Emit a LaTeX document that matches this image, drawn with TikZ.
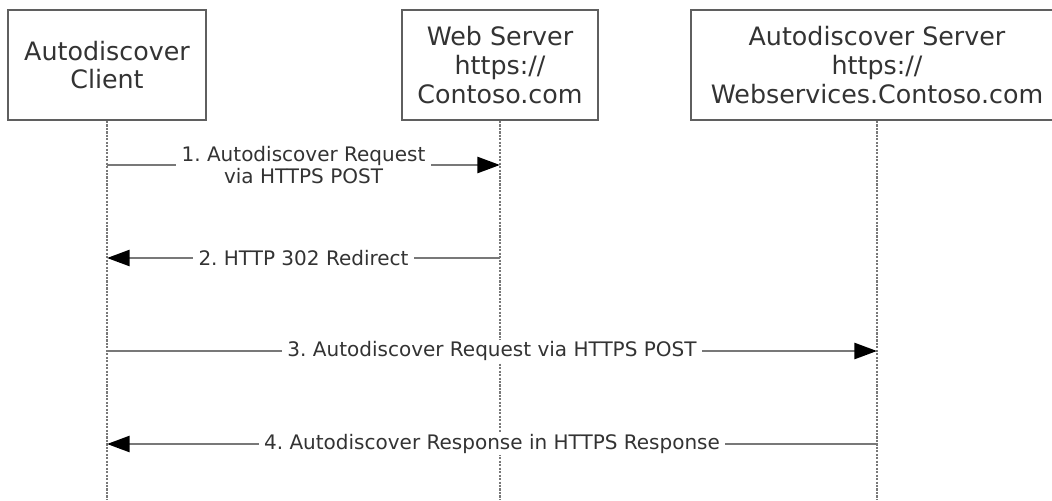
\documentclass[tikz,border=0pt]{standalone}
\usepackage{fontspec}
\setmainfont{DejaVu Sans}
\usetikzlibrary{arrows.meta, positioning}
\definecolor{boxgray}{RGB}{95,95,95}
\definecolor{linegray}{RGB}{120,120,120}
\definecolor{txtgray}{RGB}{51,51,51}
\frenchspacing

\begin{document}
\begin{tikzpicture}[x=0.75pt,y=-0.75pt,
	actor/.style={draw=boxgray, line width=1.5pt, minimum height=82.5pt, align=center, text=txtgray, font=\fontsize{19}{21.5}\selectfont, inner sep=0pt},
	lifeline/.style={draw=linegray, line width=1.8pt, dash pattern=on 1.6pt off 1pt},
	msg/.style={draw=linegray, line width=2pt, -{Triangle[length=17pt,width=12pt,color=black]}},
	msglabel/.style={fill=white, text=txtgray, font=\fontsize{15}{16}\selectfont, align=center, inner xsep=4pt, inner ysep=1pt}]
			\clip (0,0) rectangle (1052,500);
			\fill[white] (0,0) rectangle (1052,500);
			% participants
			\node[actor, minimum width=148.5pt] (client) at (107,65) {Autodiscover\\Client};
			\node[actor, minimum width=147pt] (web) at (500,65) {Web Server\\https://\\Contoso.com};
			\node[actor, minimum width=279pt] (auto) at (877,65) {Autodiscover Server\\https://\\Webservices.Contoso.com};
			% lifelines
			\coordinate (clientEnd) at (107,500);
			\coordinate (webEnd) at (500,500);
			\coordinate (autoEnd) at (877,500);
			\draw[lifeline] (client.south) -- (clientEnd);
			\draw[lifeline] (web.south) -- (webEnd);
			\draw[lifeline] (auto.south) -- (autoEnd);
			% message ends
			\coordinate (c1) at (107,165);
			\coordinate (w1) at (500,165);
			\coordinate (c2) at (107,258);
			\coordinate (w2) at (500,258);
			\coordinate (c3) at (107,351);
			\coordinate (a3) at (877,351);
			\coordinate (c4) at (107,444);
			\coordinate (a4) at (877,444);
			% messages
			\draw[msg] (c1) -- (w1) node[msglabel, midway] {1. Autodiscover Request\\via HTTPS POST};
			\draw[msg] (w2) -- (c2) node[msglabel, midway] {2. HTTP 302 Redirect};
			\draw[msg] (c3) -- (a3) node[msglabel, midway] {3. Autodiscover Request via HTTPS POST};
			\draw[msg] (a4) -- (c4) node[msglabel, midway] {4. Autodiscover Response in HTTPS Response};
		\end{tikzpicture}
\end{document}
